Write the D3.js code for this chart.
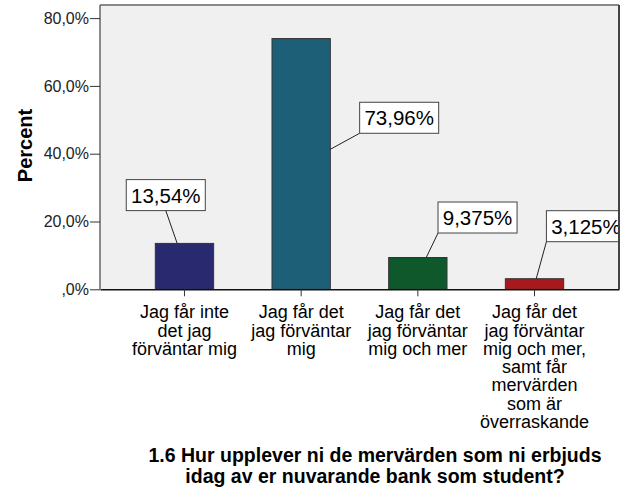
<!DOCTYPE html>
<html><head><meta charset="utf-8">
<script src="https://cdn.jsdelivr.net/npm/d3@7"></script>
<style>body{margin:0;background:#fff}svg{display:block;font-family:Arial,"Liberation Sans",sans-serif}</style>
</head><body>
<svg id="c" width="626" height="501"></svg>
<script>
const categories = [
  ["Jag får inte","det jag","förväntar mig"],
  ["Jag får det","jag förväntar","mig"],
  ["Jag får det","jag förväntar","mig och mer"],
  ["Jag får det","jag förväntar","mig och mer,","samt får","mervärden","som är","överraskande"]
];
const values = [13.54, 73.96, 9.375, 3.125];
const valueLabels = ["13,54%", "73,96%", "9,375%", "3,125%"];
const yTicks = [0, 20, 40, 60, 80];
const yTickLabels = [",0%", "20,0%", "40,0%", "60,0%", "80,0%"];
const colors = ["#29296f", "#1e5f78", "#0e582c", "#a8191e"];
const titleLines = ["1.6 Hur upplever ni de mervärden som ni erbjuds", "idag av er nuvarande bank som student?"];
const yTitle = "Percent";
// label layout: box centre offset from bar top-centre, leader start fraction along box bottom, leader end dx from bar centre
const labelLayout = [
  {dx: -18.7, dy: -48.3, fx: 0.5, ex: -7.3, side: "top"},
  {dx: 98, dy: 79.2, fx: 0, ex: null, ey: 110.7, side: "right"},
  {dx: 59.7, dy: -40, fx: 0, ex: 8.4, side: "top"},
  {dx: 51.4, dy: -52.5, fx: 0, ex: 1.7, side: "top"}
];

const L = 100, R = 619, T = 5, B = 289.3;
const svg = d3.select("#c");
const x = d3.scaleBand().domain(d3.range(values.length)).range([L, R]).paddingInner(0.5).paddingOuter(0.474);
const y = d3.scaleLinear().domain([0, (B - T) / 3.39]).range([B, T]);

svg.append("defs").append("clipPath").attr("id","pc").append("rect")
  .attr("x", L).attr("y", T).attr("width", R - L).attr("height", B - T);

svg.append("rect").attr("x", L).attr("y", T).attr("width", R - L).attr("height", B - T)
  .attr("fill", "#f0f0f0");

const g = svg.append("g").attr("clip-path", "url(#pc)");
g.selectAll("rect.bar").data(values).join("rect").attr("class","bar")
  .attr("x", (d,i) => x(i)).attr("width", x.bandwidth())
  .attr("y", d => y(d)).attr("height", d => B - y(d))
  .attr("fill", (d,i) => colors[i]).attr("stroke", "#333").attr("stroke-width", 1);

// labels
const fs = 20.5;
values.forEach((v,i) => {
  const lay = labelLayout[i];
  const cx = x(i) + x.bandwidth()/2, ty = y(v);
  const bx = cx + lay.dx, by = ty + lay.dy;
  const t = g.append("text").attr("x", bx).attr("y", by).attr("text-anchor","middle")
    .attr("dominant-baseline","central").attr("font-size", fs).attr("fill","#000").text(valueLabels[i]);
  const w = t.node().getComputedTextLength() + 9.5, h = 31;
  const sx = bx - w/2 + lay.fx * w, sy = by + h/2;
  let exx, eyy;
  if (lay.side === "right") { exx = x(i) + x.bandwidth(); eyy = ty + lay.ey; }
  else { exx = cx + lay.ex; eyy = ty; }
  g.insert("line", "text").attr("x1", sx).attr("y1", sy).attr("x2", exx).attr("y2", eyy)
    .attr("stroke", "#222").attr("stroke-width", 1);
  g.insert("rect", "text").attr("x", bx - w/2).attr("y", by - h/2).attr("width", w).attr("height", h)
    .attr("fill", "#fff").attr("stroke", "#444").attr("stroke-width", 1);
  t.raise();
});

// frame
svg.append("line").attr("x1", L).attr("x2", R).attr("y1", T).attr("y2", T).attr("stroke", "#888").attr("stroke-width", 2);
svg.append("line").attr("x1", R).attr("x2", R).attr("y1", T).attr("y2", B).attr("stroke", "#444").attr("stroke-width", 2);
svg.append("line").attr("x1", L).attr("x2", L).attr("y1", T).attr("y2", B).attr("stroke", "#666").attr("stroke-width", 1.5);

// y axis
const ya = svg.append("g").attr("transform", `translate(${L},0)`)
  .call(d3.axisLeft(y).tickValues(yTicks).tickFormat((d,i) => yTickLabels[i]).tickSize(10).tickPadding(1));
ya.select(".domain").remove();
ya.selectAll(".tick line").attr("stroke", "#333");
ya.selectAll(".tick text").attr("font-size", 16).attr("fill", "#222").attr("font-family", "Arial, 'Liberation Sans', sans-serif");

// x axis
const xa = svg.append("g").attr("transform", `translate(0,${B})`)
  .call(d3.axisBottom(x).tickFormat("").tickSize(7).tickSizeOuter(0));
xa.select(".domain").attr("stroke", "#111").attr("stroke-width", 1.5);
xa.selectAll(".tick line").attr("stroke", "#333");
xa.selectAll(".tick").each(function(d) {
  const t = d3.select(this).append("text").attr("fill", "#000").attr("font-size", 18)
    .attr("font-family", "Arial, 'Liberation Sans', sans-serif").attr("text-anchor", "middle");
  categories[d].forEach((s, k) => t.append("tspan").attr("x", 0).attr("y", 29 + k * 18.3).text(s));
});

// y title
svg.append("text").attr("transform", "translate(32,145.5) rotate(-90)").attr("text-anchor", "middle")
  .attr("font-size", 20).attr("font-weight", "bold").text(yTitle);

// title
const tt = svg.append("text").attr("text-anchor", "middle").attr("font-size", 19.5).attr("font-weight", "bold");
titleLines.forEach((s, k) => tt.append("tspan").attr("x", 375).attr("y", 462 + k * 21).text(s));
</script>
</body></html>
